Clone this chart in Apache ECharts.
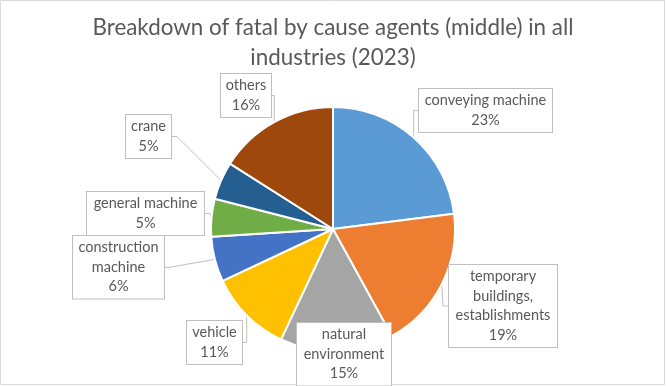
<!DOCTYPE html>
<html><head><meta charset="utf-8">
<script src="https://cdn.jsdelivr.net/npm/echarts@6/dist/echarts.min.js"></script>
<style>html,body{margin:0;padding:0;background:#fff}#c{width:666px;height:386px}</style>
</head><body><div id="c"></div>
<script>
const categories = ['conveying machine','temporary buildings, establishments','natural environment','vehicle','construction machine','general machine','crane','others'];
// wrapped label text as shown in the chart
const labelTexts = ['conveying machine','temporary\nbuildings,\nestablishments','natural\nenvironment','vehicle','construction\nmachine','general machine','crane','others'];
const values = [23, 19, 15, 11, 6, 5, 5, 16];
const colors = ['#5B9BD5','#ED7D31','#A5A5A5','#FFC000','#4472C4','#70AD47','#255E91','#9E480E'];
// label box layout: [centerX, topY, boxWidth]
const labelBoxes = [[485.5,89,133],[503,265,108],[344,323,94],[214.5,321,55],[118.5,236,91],[145.5,192,117],[148.5,115,45],[246,74,50]];

const FONT = 'Lato';
const chart = echarts.init(document.getElementById('c'), null, {renderer:'canvas'});
chart.setOption({
  animation:false,
  backgroundColor:'#fff',
  title:{
    text:'Breakdown of fatal by cause agents (middle) in all\nindustries (2023)',
    left:'center', top:8,
    textStyle:{fontFamily:FONT, fontSize:22.4, fontWeight:'normal', color:'#595959', lineHeight:30}
  },
  graphic:[{type:'rect', shape:{x:0.5,y:0.5,width:664,height:384}, style:{fill:'none', stroke:'#d9d9d9', lineWidth:1}, silent:true}],
  series:[{
    type:'pie',
    center:[333,229],
    radius:122,
    startAngle:90,
    clockwise:true,
    avoidLabelOverlap:false,
    itemStyle:{borderColor:'#fff', borderWidth:2},
    label:{
      show:true, position:'outside',
      formatter:p => labelTexts[p.dataIndex] + '\n' + p.value + '%',
      fontFamily:FONT, fontSize:14.5, lineHeight:19.5, color:'#595959',
      backgroundColor:'#fff', borderColor:'#bfbfbf', borderWidth:1,
      padding:[2,5], align:'center', overflow:'none'
    },
    labelLine:{show:true, length:5, length2:5, smooth:false, lineStyle:{color:'#bfbfbf', width:1}},
    labelLayout: function(params){
      const b = labelBoxes[params.dataIndex];
      return {x:b[0], y:b[1], align:'center', verticalAlign:'top'};
    },
    data: categories.map((n,i)=>({name:n, value:values[i], itemStyle:{color:colors[i]}, label:{width:labelBoxes[i][2]-10}}))
  }]
});
</script></body></html>
